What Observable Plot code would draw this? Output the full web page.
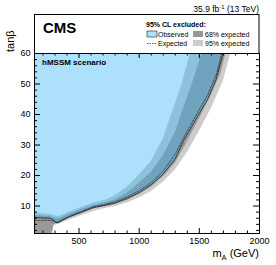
<!DOCTYPE html>
<html><head><meta charset="utf-8">
<script src="https://cdn.jsdelivr.net/npm/d3@7"></script>
<script src="https://cdn.jsdelivr.net/npm/@observablehq/plot@0.6"></script>
<style>body{margin:0;background:#fff;} svg{display:block}</style>
</head><body><div id="chart"></div>
<script>
// Observed exclusion contour (mA in GeV, tanβ)
const mA_obs = [130,200,260,290,310,330,360,420,520,620,720,800,900,1000,1100,1200,1300,1370,1470,1570,1640,1700];
const tb_obs = [6.3,6.1,6.0,5.3,4.5,4.6,5.3,6.5,8.0,9.5,10.3,11.0,12.5,14.4,17.0,20.5,25.5,31.5,38.3,45.0,51.5,60.5];
// Expected
const mA_exp = [130,270,300,320,360,420,520,620,720,800,900,1000,1100,1200,1300,1370,1470,1570,1640,1690];
const tb_exp = [5.3,5.3,4.9,4.7,5.5,6.6,8.2,9.8,10.6,11.4,13.0,15.0,17.7,21.5,27.0,32.5,39.5,46.5,53.0,60.5];
// +1 sigma
const mA_p1 = [130,275,290,310,340,380,420,520,620,720,800,900,1000,1100,1200,1300,1400,1500,1600,1680,1725];
const tb_p1 = [1,1,3.8,4.2,4.4,5.2,6.0,7.5,9.0,9.8,10.5,11.8,13.8,16.2,19.5,24.0,31.0,38.5,46.5,53.5,60.5];
// +2 sigma
const mA_p2 = [130,280,295,320,360,420,520,620,720,800,900,1000,1100,1200,1300,1400,1500,1600,1700,1765];
const tb_p2 = [1,1,3.5,3.9,4.5,5.4,6.8,8.2,9.2,9.8,11.0,12.6,14.8,17.8,21.8,27.5,34.5,42.0,51.0,60.5];
// -1 sigma
const mA_m1 = [130,200,260,300,330,360,420,520,620,720,800,900,1000,1100,1200,1300,1375,1450,1527];
const tb_m1 = [6.9,6.7,6.6,6.0,5.8,6.3,7.3,8.8,10.2,11.1,12.0,14.3,17.4,21.0,26.5,34.0,42.7,51.0,60.5];
// -2 sigma
const mA_m2 = [130,200,260,300,330,360,420,520,620,720,800,900,1000,1100,1200,1270,1350,1430];
const tb_m2 = [7.6,7.4,7.3,6.8,6.6,7.0,8.0,9.5,11.0,11.9,13.3,16.2,20.1,24.5,32.0,40.0,49.0,60.5];

const xTicks = [500,1000,1500,2000];
const xMinor = [200,300,400,600,700,800,900,1100,1200,1300,1400,1600,1700,1800,1900];
const yTicks = [10,20,30,40,50,60];
const yMinor = [2,4,6,8,12,14,16,18,22,24,26,28,32,34,36,38,42,44,46,48,52,54,56,58];

const pts = (ms, ts) => ms.map((m, i) => ({m, t: ts[i]}));
const obs = pts(mA_obs, tb_obs), exp = pts(mA_exp, tb_exp);
const p1 = pts(mA_p1, tb_p1), p2 = pts(mA_p2, tb_p2);
const m1 = pts(mA_m1, tb_m1), m2 = pts(mA_m2, tb_m2);

const TOP = 60;
const font = "'Liberation Sans', Arial, Helvetica, sans-serif";
const area = (d, fill, extra={}) => Plot.areaY(d, {x: "m", y1: "t", y2: TOP, fill, clip: true, ...extra});

const chart = Plot.plot({
  width: 276, height: 265,
  marginTop: 53, marginBottom: 32, marginLeft: 34, marginRight: 17,
  style: {fontFamily: font, fontSize: "9px", color: "black", background: "white"},
  x: {domain: [130, 2000]},
  y: {domain: [1, 60]},
  marks: [
    area(p2, "#cccccc"),
    area(p1, "#999999"),
    area(m1, "#cccccc"),
    area(m2, "white"),
    area(obs, "rgb(50,177,242)", {fillOpacity: 0.4}),
    Plot.line(exp, {x: "m", y: "t", stroke: "#333", strokeWidth: 0.8, strokeDasharray: "2,1.5", clip: true}),
    Plot.line(obs, {x: "m", y: "t", stroke: "#222", strokeWidth: 0.8, clip: true}),
    Plot.tickX(xTicks, {x: d => d, insetTop: 175, stroke: "black"}),
    Plot.tickX(xTicks, {x: d => d, insetBottom: 175, stroke: "black"}),
    Plot.tickX(xMinor, {x: d => d, insetTop: 177.5, stroke: "black"}),
    Plot.tickX(xMinor, {x: d => d, insetBottom: 177.5, stroke: "black"}),
    Plot.tickY(yTicks, {y: d => d, insetRight: 219, stroke: "black"}),
    Plot.tickY(yTicks, {y: d => d, insetLeft: 219, stroke: "black"}),
    Plot.tickY(yMinor, {y: d => d, insetRight: 222, stroke: "black"}),
    Plot.tickY(yMinor, {y: d => d, insetLeft: 222, stroke: "black"}),
    Plot.axisX({ticks: xTicks, tickSize: 0, tickPadding: 4, label: null, fontSize: 9, tickFormat: d => String(d)}),
    Plot.axisY({ticks: yTicks, tickSize: 0, tickPadding: 4, label: null, fontSize: 9, tickFormat: d => String(d)}),
    Plot.frame({stroke: "black", strokeWidth: 1})
  ]
});
document.getElementById("chart").appendChild(chart);

const svg = d3.select(chart);
const g = svg.append("g").attr("font-family", font).attr("text-anchor", "start");
// legend box above frame
g.append("rect").attr("x", 34.5).attr("y", 14.5).attr("width", 224.5).attr("height", 39)
  .attr("fill", "white").attr("stroke", "black").attr("stroke-width", 1);
g.append("text").attr("x", 43).attr("y", 33).attr("font-size", 15).attr("font-weight", "bold").text("CMS");
g.append("text").attr("x", 146).attr("y", 27).attr("font-size", 7).attr("font-weight", "bold").text("95% CL excluded:");
g.append("rect").attr("x", 147).attr("y", 31).attr("width", 10).attr("height", 6)
  .attr("fill", "rgb(173,224,250)").attr("stroke", "#222").attr("stroke-width", 0.6);
g.append("text").attr("x", 158).attr("y", 37).attr("font-size", 7).text("Observed");
g.append("rect").attr("x", 193).attr("y", 31).attr("width", 10).attr("height", 6).attr("fill", "#999999");
g.append("text").attr("x", 205).attr("y", 37).attr("font-size", 7).text("68% expected");
g.append("line").attr("x1", 147).attr("x2", 157).attr("y1", 43.5).attr("y2", 43.5)
  .attr("stroke", "#333").attr("stroke-width", 0.8).attr("stroke-dasharray", "1.5,1");
g.append("text").attr("x", 158).attr("y", 46).attr("font-size", 7).text("Expected");
g.append("rect").attr("x", 193).attr("y", 40).attr("width", 10).attr("height", 6).attr("fill", "#cccccc");
g.append("text").attr("x", 205).attr("y", 46).attr("font-size", 7).text("95% expected");
// scenario label
g.append("text").attr("x", 42).attr("y", 65).attr("font-size", 8).attr("font-weight", "bold").text("hMSSM scenario");
// lumi label
const lumi = g.append("text").attr("x", 259).attr("y", 12).attr("font-size", 8.5).attr("text-anchor", "end");
lumi.append("tspan").text("35.9 fb");
lumi.append("tspan").attr("dy", -3.5).attr("font-size", 6).text("-1");
lumi.append("tspan").attr("dy", 3.5).text(" (13 TeV)");
// axis titles
const xl = g.append("text").attr("x", 259).attr("y", 257).attr("font-size", 11).attr("text-anchor", "end");
xl.append("tspan").text("m");
xl.append("tspan").attr("dy", 2.5).attr("font-size", 7.5).text("A");
xl.append("tspan").attr("dy", -2.5).text(" (GeV)");
g.append("text").attr("transform", "translate(14,52) rotate(-90)").attr("font-size", 11)
  .attr("text-anchor", "start").text("tanβ");
</script></body></html>
